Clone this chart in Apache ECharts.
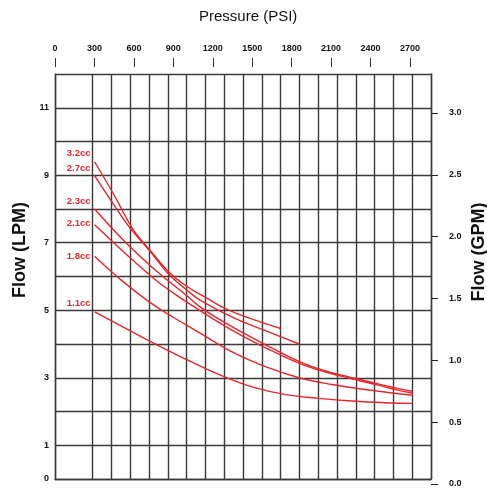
<!DOCTYPE html>
<html><head><meta charset="utf-8">
<script src="https://cdn.jsdelivr.net/npm/echarts@6/dist/echarts.min.js"></script>
<style>html,body{margin:0;padding:0;background:#fff}#c{width:487px;height:491px}</style>
</head><body><div id="c"></div>
<script>
// ---- data ----
const psiTickMax = 2700;          // last labelled pressure tick
const psiTickStep = 300;
const lpmLabels = [0, 1, 3, 5, 7, 9, 11];
const gpmMax = 3.0;
const gpmStep = 0.5;

const names = ['3.2cc', '2.7cc', '2.3cc', '2.1cc', '1.8cc', '1.1cc'];
const psi32 = [300, 450, 593, 720, 859, 998, 1150, 1301, 1478, 1711];
const lpm32 = [9.40, 8.40, 7.39, 6.78, 6.15, 5.71, 5.36, 5.03, 4.76, 4.46];
const psi27 = [300, 450, 568, 720, 859, 998, 1099, 1352, 1604, 1852];
const lpm27 = [8.99, 8.10, 7.44, 6.75, 6.08, 5.60, 5.30, 4.78, 4.38, 4.00];
const psi23 = [300, 500, 700, 846, 1000, 1099, 1250, 1402, 1600, 1857, 2050, 2236, 2450, 2615, 2711];
const lpm23 = [8.00, 7.15, 6.40, 5.91, 5.43, 5.10, 4.72, 4.38, 3.97, 3.47, 3.20, 3.02, 2.82, 2.67, 2.60];
const psi21 = [300, 500, 758, 900, 1099, 1250, 1402, 1600, 1857, 2050, 2236, 2450, 2615, 2711];
const lpm21 = [7.53, 6.80, 5.91, 5.50, 4.99, 4.62, 4.28, 3.88, 3.42, 3.17, 2.98, 2.78, 2.62, 2.55];
const psi18 = [300, 500, 750, 1000, 1100, 1350, 1600, 1850, 2100, 2350, 2711];
const lpm18 = [6.60, 5.90, 5.15, 4.55, 4.32, 3.75, 3.32, 3.00, 2.80, 2.65, 2.48];
const psi11 = [300, 518, 771, 1023, 1276, 1500, 1750, 2000, 2250, 2500, 2711];
const lpm11 = [4.95, 4.50, 3.98, 3.49, 3.04, 2.72, 2.50, 2.39, 2.31, 2.26, 2.24];
const labelOffsets = [-8, -7, -8, -1, 0, -9];

const seriesX = [psi32, psi27, psi23, psi21, psi18, psi11];
const seriesY = [lpm32, lpm27, lpm23, lpm21, lpm18, lpm11];

const RED = '#e4262c';
const GRID = '#3a3a3a';
const narrow = '"Liberation Sans Narrow", "Liberation Sans", Arial, sans-serif';
const tickFont = {fontFamily: narrow, fontWeight: 'bold', fontSize: 9, color: '#111'};
const nameFont = {fontSize: 18, fontWeight: 'bold', color: '#111', fontFamily: '"Liberation Sans", Arial, sans-serif'};

// vertical grid colours: 20 columns, no line at column 1
const colColors = [];
for (let i = 0; i <= 20; i++) colColors.push(i === 1 ? 'rgba(0,0,0,0)' : GRID);

const series = names.map((n, i) => ({
  name: n,
  type: 'line',
  xAxisIndex: 1,
  yAxisIndex: 0,
  smooth: 0.4,
  symbol: 'circle',
  symbolSize: 0,
  showSymbol: true,
  lineStyle: {color: RED, width: 1.4},
  itemStyle: {color: RED},
  silent: true,
  z: 5,
  data: seriesX[i].map((x, k) => k === 0 ? {
    value: [x, seriesY[i][k]],
    label: {show: true, position: 'left', distance: 4, offset: [0, labelOffsets[i]],
      formatter: n, color: RED, fontSize: 9.5, fontWeight: 'bold', fontFamily: narrow}
  } : [x, seriesY[i][k]])
}));

const hiddenAxis = (g) => ({gridIndex: g, type: 'value', min: 0, max: 1, show: false});

const chart = echarts.init(document.getElementById('c'), null, {renderer: 'canvas'});
chart.setOption({
  animation: false,
  backgroundColor: '#fff',
  title: {text: 'Pressure (PSI)', left: 194, top: 4,
    textStyle: {fontSize: 15, fontWeight: 'normal', color: '#111', fontFamily: '"Liberation Sans", Arial, sans-serif'}},
  graphic: [{
    type: 'text', x: 479, y: 252, rotation: Math.PI / 2, silent: true,
    style: {text: 'Flow (GPM)', fill: '#111', align: 'center', verticalAlign: 'middle',
      font: 'bold 18px "Liberation Sans", Arial, sans-serif'}
  }],
  grid: [
    {left: 55, right: 56, top: 74, bottom: 12},      // plot
    {left: 55, right: 77, top: 74, height: 20},      // pressure tick scale
    {left: 55, right: 56, top: 113, bottom: 7},      // GPM tick scale
    {left: 55, right: 56, top: 74, height: 352}      // axis title
  ],
  xAxis: [
    { // vertical grid lines
      gridIndex: 0, type: 'value', position: 'bottom', min: 0, max: 20, interval: 1,
      axisLabel: {show: false}, axisTick: {show: false},
      axisLine: {show: true, onZero: false, lineStyle: {color: GRID, width: 1.4}},
      splitLine: {show: true, lineStyle: {color: colColors, width: 1.4}}
    },
    { // data pressure axis (hidden)
      gridIndex: 0, type: 'value', position: 'top', min: 0, max: 2850, show: false
    },
    { // visible pressure ticks
      gridIndex: 1, type: 'value', position: 'top', min: 0, max: psiTickMax, interval: psiTickStep, offset: 7,
      axisLine: {show: false, onZero: false},
      axisTick: {show: true, length: 9, lineStyle: {color: '#333', width: 1}},
      axisLabel: Object.assign({show: true, margin: 14, formatter: v => String(v)}, tickFont),
      splitLine: {show: false}
    },
    hiddenAxis(2),
    hiddenAxis(3)
  ],
  yAxis: [
    {
      gridIndex: 0, type: 'value', position: 'left', min: 0, max: 12, interval: 1,
      axisLine: {show: true, onZero: false, lineStyle: {color: GRID, width: 1.4}},
      axisTick: {show: false},
      axisLabel: Object.assign({show: true, margin: 6, customValues: lpmLabels}, tickFont),
      splitLine: {show: true, lineStyle: {color: GRID, width: 1.4}}
    },
    { // right border
      gridIndex: 0, type: 'value', position: 'right', min: 0, max: 12,
      axisLine: {show: true, onZero: false, lineStyle: {color: GRID, width: 1.4}},
      axisTick: {show: false}, axisLabel: {show: false}, splitLine: {show: false}
    },
    hiddenAxis(1),
    { // GPM tick scale
      gridIndex: 2, type: 'value', position: 'right', min: 0, max: gpmMax, interval: gpmStep,
      axisLine: {show: false, onZero: false},
      axisTick: {show: true, length: 7, lineStyle: {color: '#222', width: 1}},
      axisLabel: Object.assign({show: true, margin: 18, formatter: v => Number(v).toFixed(1)}, tickFont),
      splitLine: {show: false}
    },
    { // left axis title
      gridIndex: 3, type: 'value', position: 'left', min: 0, max: 1,
      name: 'Flow (LPM)', nameLocation: 'middle', nameRotate: 90, nameGap: 26, nameTextStyle: nameFont,
      axisLine: {show: false, onZero: false}, axisTick: {show: false}, axisLabel: {show: false}, splitLine: {show: false}
    }
  ],
  series: series
});
</script></body></html>
